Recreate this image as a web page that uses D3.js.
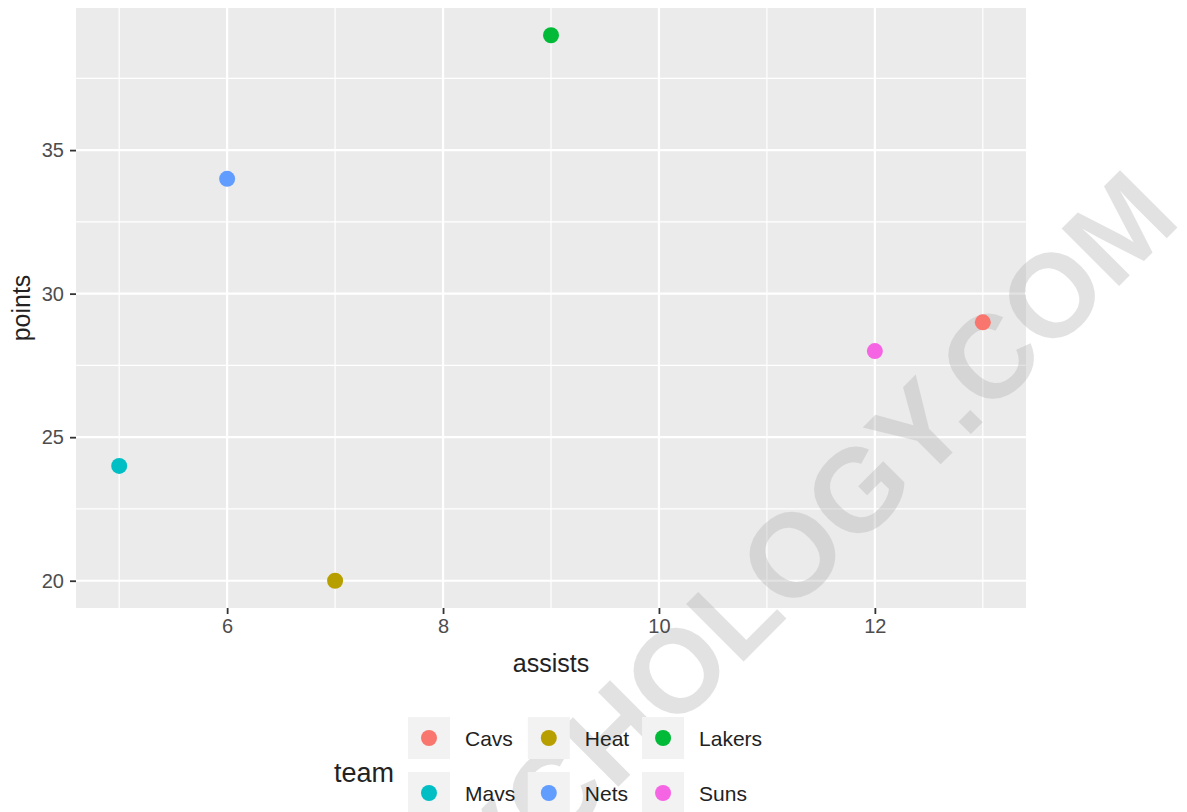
<!DOCTYPE html>
<meta charset="utf-8">
<html>
<head>
<style>
  body { margin: 0; background: #fff; }
  text { font-family: "Liberation Sans", Arial, sans-serif; }
</style>
</head>
<body>
<div id="chart"></div>
<script src="https://d3js.org/d3.v7.min.js"></script>
<script>

// data
var teams   = ["Cavs", "Heat", "Lakers", "Mavs", "Nets", "Suns"];
var assists = [13, 7, 9, 5, 6, 12];
var points  = [29, 20, 39, 24, 34, 28];
var colors  = ["#F8766D", "#B79F00", "#00BA38", "#00BFC4", "#619CFF", "#F564E3"];
var xTicks  = [6, 8, 10, 12];
var yTicks  = [20, 25, 30, 35];
var xMinor  = [5, 7, 9, 11, 13];
var yMinor  = [22.5, 27.5, 32.5, 37.5];

var data = teams.map(function(t, i) {
  return { team: t, assists: assists[i], points: points[i] };
});

var width = 1187, height = 812;
var panel = { left: 76, top: 8, right: 1026, bottom: 608 };

var svg = d3.select("#chart").append("svg")
  .attr("width", width)
  .attr("height", height);

// ggplot style 5% expansion
var xMin = d3.min(assists), xMax = d3.max(assists);
var yMin = d3.min(points),  yMax = d3.max(points);
var xPad = (xMax - xMin) * 0.05, yPad = (yMax - yMin) * 0.05;

var x = d3.scaleLinear()
  .domain([xMin - xPad, xMax + xPad])
  .range([panel.left, panel.right]);
var y = d3.scaleLinear()
  .domain([yMin - yPad, yMax + yPad])
  .range([panel.bottom, panel.top]);

var color = d3.scaleOrdinal().domain(teams).range(colors);

// panel background
svg.append("rect")
  .attr("x", panel.left).attr("y", panel.top)
  .attr("width", panel.right - panel.left)
  .attr("height", panel.bottom - panel.top)
  .attr("fill", "#EBEBEB");

// grid lines
var grid = svg.append("g");
grid.selectAll(".vminor").data(xMinor).enter().append("line")
  .attr("x1", function(d) { return x(d); }).attr("x2", function(d) { return x(d); })
  .attr("y1", panel.top).attr("y2", panel.bottom)
  .attr("stroke", "#fff").attr("stroke-width", 1.2);
grid.selectAll(".hminor").data(yMinor).enter().append("line")
  .attr("y1", function(d) { return y(d); }).attr("y2", function(d) { return y(d); })
  .attr("x1", panel.left).attr("x2", panel.right)
  .attr("stroke", "#fff").attr("stroke-width", 1.2);
grid.selectAll(".vmajor").data(xTicks).enter().append("line")
  .attr("x1", function(d) { return x(d); }).attr("x2", function(d) { return x(d); })
  .attr("y1", panel.top).attr("y2", panel.bottom)
  .attr("stroke", "#fff").attr("stroke-width", 2.2);
grid.selectAll(".hmajor").data(yTicks).enter().append("line")
  .attr("y1", function(d) { return y(d); }).attr("y2", function(d) { return y(d); })
  .attr("x1", panel.left).attr("x2", panel.right)
  .attr("stroke", "#fff").attr("stroke-width", 2.2);

// faint site watermark across the picture (under the marks and texts)
svg.append("text")
  .attr("transform", "translate(1183,222) rotate(-45)")
  .attr("text-anchor", "end")
  .attr("fill", "#afafaf")
  .attr("opacity", 0.35)
  .style("font-size", "118px")
  .style("font-weight", "bold")
  .text("PSYCHOLOGY.COM");

// axes
var xAxis = svg.append("g")
  .attr("transform", "translate(0," + panel.bottom + ")")
  .call(d3.axisBottom(x).tickValues(xTicks).tickSize(6).tickPadding(5));
var yAxis = svg.append("g")
  .attr("transform", "translate(" + panel.left + ",0)")
  .call(d3.axisLeft(y).tickValues(yTicks).tickSize(6).tickPadding(6));

[xAxis, yAxis].forEach(function(a) {
  a.select(".domain").remove();
  a.selectAll(".tick line").attr("stroke", "#333").attr("stroke-width", 1.8);
  a.selectAll(".tick text")
    .attr("fill", "#4D4D4D")
    .style("font-size", "20px")
    .style("font-family", "Liberation Sans, Arial, sans-serif");
});

// axis titles
svg.append("text")
  .attr("x", (panel.left + panel.right) / 2)
  .attr("y", 672)
  .attr("text-anchor", "middle")
  .attr("fill", "#222")
  .style("font-size", "25px")
  .text("assists");

svg.append("text")
  .attr("transform", "translate(30," + ((panel.top + panel.bottom) / 2) + ") rotate(-90)")
  .attr("text-anchor", "middle")
  .attr("fill", "#222")
  .style("font-size", "25px")
  .text("points");

// points
svg.append("g").selectAll("circle")
  .data(data).enter().append("circle")
  .attr("cx", function(d) { return x(d.assists); })
  .attr("cy", function(d) { return y(d.points); })
  .attr("r", 8)
  .attr("fill", function(d) { return color(d.team); });

// legend, 3 columns x 2 rows
var legend = svg.append("g");
var keySize = 42, rowStep = 55, legendLeft = 408, legendTop = 717;

legend.append("text")
  .attr("x", 334).attr("y", 782)
  .attr("fill", "#222")
  .style("font-size", "27px")
  .text("team");

var ncol = 3;
var colX = [legendLeft];
// measure labels so columns line up like ggplot
var measure = svg.append("text").style("font-size", "20px");
for (var c = 0; c < ncol - 1; c++) {
  var widest = 0;
  for (var r = 0; r * ncol + c < teams.length; r++) {
    measure.text(teams[r * ncol + c]);
    widest = Math.max(widest, measure.node().getComputedTextLength());
  }
  colX.push(colX[c] + keySize + 15 + widest + 15);
}
measure.remove();

teams.forEach(function(t, i) {
  var col = i % ncol, row = Math.floor(i / ncol);
  var gx = colX[col], gy = legendTop + row * rowStep;
  var g = legend.append("g").attr("transform", "translate(" + gx + "," + gy + ")");
  g.append("rect")
    .attr("width", keySize).attr("height", keySize)
    .attr("fill", "#F2F2F2");
  g.append("circle")
    .attr("cx", keySize / 2).attr("cy", keySize / 2)
    .attr("r", 8)
    .attr("fill", color(t));
  g.append("text")
    .attr("x", keySize + 15).attr("y", keySize / 2 + 8)
    .attr("fill", "#222")
    .style("font-size", "21px")
    .text(t);
});

</script>
</body>
</html>
